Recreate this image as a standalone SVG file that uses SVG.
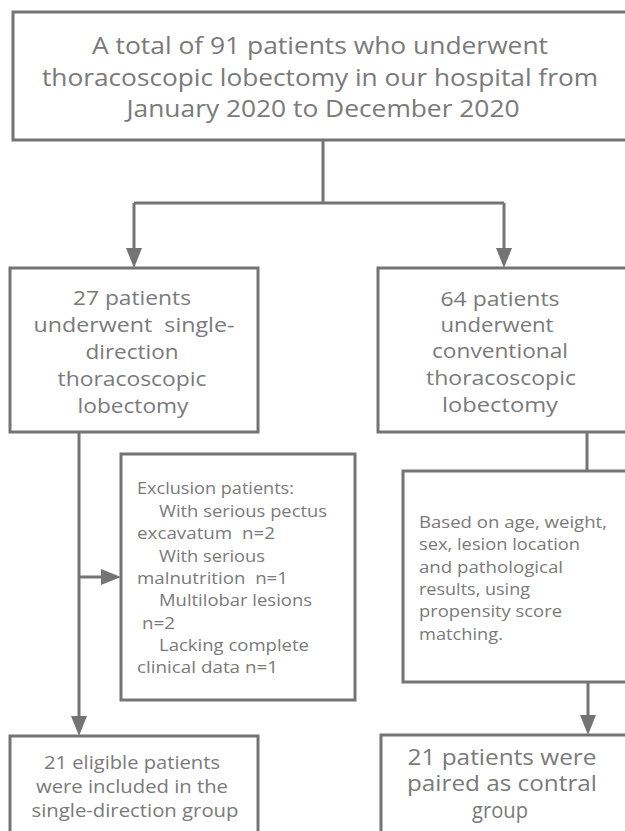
<svg xmlns="http://www.w3.org/2000/svg" width="625" height="831" viewBox="0 0 625 831">
<style>
.box{fill:#ffffff;stroke:#747474;stroke-width:3}
.ln{fill:none;stroke:#747474;stroke-width:3}
text{font-family:"Open Sans","Noto Sans","DejaVu Sans",sans-serif;fill:#7a7a7a;white-space:pre}
.t26{font-size:24px;text-anchor:middle}
.t22{font-size:20.5px;text-anchor:middle}
.t18{font-size:16.8px}
.t20{font-size:18.5px;text-anchor:middle}
.t23{font-size:21px;text-anchor:middle}
</style>
<defs>
<marker id="ah" viewBox="0 0 20 16" refX="10" refY="8" markerWidth="20" markerHeight="16" markerUnits="userSpaceOnUse" orient="auto">
<path d="M0,0 L20,8 L0,16 Z" fill="#747474"/>
</marker>
</defs>
<rect width="625" height="831" fill="#ffffff"/>
<g id="connectors">
<path class="ln" d="M323,140 V203 M134,203 H504"/>
<path class="ln" d="M134,203 V258" marker-end="url(#ah)"/>
<path class="ln" d="M504,203 V258" marker-end="url(#ah)"/>
<path class="ln" d="M79,432 V726" marker-end="url(#ah)"/>
<path class="ln" d="M79,577 H111" marker-end="url(#ah)"/>
<path class="ln" d="M587,432 V471"/>
<path class="ln" d="M588,682 V725" marker-end="url(#ah)"/>
</g>
<g id="n_total">
<rect class="box" x="13" y="12" width="614" height="128"/>
<text class="t26" x="320" y="54" textLength="456" lengthAdjust="spacingAndGlyphs">A total of 91 patients who underwent</text>
<text class="t26" x="320" y="86" textLength="556" lengthAdjust="spacingAndGlyphs">thoracoscopic lobectomy in our hospital from</text>
<text class="t26" x="323" y="117" textLength="393" lengthAdjust="spacingAndGlyphs">January 2020 to December 2020</text>
</g>
<g id="n_single">
<rect class="box" x="10" y="268" width="248" height="164"/>
<text class="t22" x="132" y="305" textLength="118" lengthAdjust="spacingAndGlyphs">27 patients</text>
<text class="t22" x="134" y="332" textLength="201" lengthAdjust="spacingAndGlyphs">underwent  single-</text>
<text class="t22" x="132" y="359" textLength="93" lengthAdjust="spacingAndGlyphs">direction</text>
<text class="t22" x="132" y="386" textLength="149" lengthAdjust="spacingAndGlyphs">thoracoscopic</text>
<text class="t22" x="133" y="413" textLength="111" lengthAdjust="spacingAndGlyphs">lobectomy</text>
</g>
<g id="n_conv">
<rect class="box" x="378" y="268" width="249" height="164"/>
<text class="t22" x="500" y="306" textLength="119" lengthAdjust="spacingAndGlyphs">64 patients</text>
<text class="t22" x="497" y="332" textLength="113" lengthAdjust="spacingAndGlyphs">underwent</text>
<text class="t22" x="500" y="358" textLength="136" lengthAdjust="spacingAndGlyphs">conventional</text>
<text class="t22" x="501" y="385" textLength="150" lengthAdjust="spacingAndGlyphs">thoracoscopic</text>
<text class="t22" x="500" y="412" textLength="116" lengthAdjust="spacingAndGlyphs">lobectomy</text>
</g>
<g id="n_exclusion">
<rect class="box" x="121" y="454" width="234" height="246"/>
<text class="t18" x="137" y="494" textLength="157" lengthAdjust="spacingAndGlyphs">Exclusion patients:</text>
<text class="t18" x="159" y="517" textLength="168" lengthAdjust="spacingAndGlyphs">With serious pectus</text>
<text class="t18" x="137" y="539" textLength="138" lengthAdjust="spacingAndGlyphs">excavatum  n=2</text>
<text class="t18" x="159" y="562" textLength="106" lengthAdjust="spacingAndGlyphs">With serious</text>
<text class="t18" x="137" y="584" textLength="151" lengthAdjust="spacingAndGlyphs">malnutrition  n=1</text>
<text class="t18" x="159" y="606" textLength="153" lengthAdjust="spacingAndGlyphs">Multilobar lesions</text>
<text class="t18" x="142" y="629" textLength="33" lengthAdjust="spacingAndGlyphs">n=2</text>
<text class="t18" x="159" y="651" textLength="150" lengthAdjust="spacingAndGlyphs">Lacking complete</text>
<text class="t18" x="137" y="673" textLength="141" lengthAdjust="spacingAndGlyphs">clinical data n=1</text>
</g>
<g id="n_matching">
<rect class="box" x="403" y="471" width="224" height="211"/>
<text class="t18" x="419" y="528" textLength="188" lengthAdjust="spacingAndGlyphs">Based on age, weight,</text>
<text class="t18" x="419" y="550" textLength="161" lengthAdjust="spacingAndGlyphs">sex, lesion location</text>
<text class="t18" x="419" y="573" textLength="144" lengthAdjust="spacingAndGlyphs">and pathological</text>
<text class="t18" x="419" y="595" textLength="111" lengthAdjust="spacingAndGlyphs">results, using</text>
<text class="t18" x="419" y="617" textLength="143" lengthAdjust="spacingAndGlyphs">propensity score</text>
<text class="t18" x="419" y="640" textLength="84" lengthAdjust="spacingAndGlyphs">matching.</text>
</g>
<g id="n_single_group">
<rect class="box" x="10" y="736" width="248" height="110"/>
<text class="t20" x="132" y="769" textLength="176" lengthAdjust="spacingAndGlyphs">21 eligible patients</text>
<text class="t20" x="132" y="793" textLength="192" lengthAdjust="spacingAndGlyphs">were included in the</text>
<text class="t20" x="135" y="817" textLength="207" lengthAdjust="spacingAndGlyphs">single-direction group</text>
</g>
<g id="n_control_group">
<rect class="box" x="381" y="735" width="246" height="110"/>
<text class="t23" x="502" y="765" textLength="189" lengthAdjust="spacingAndGlyphs">21 patients were</text>
<text class="t23" x="502" y="791" textLength="190" lengthAdjust="spacingAndGlyphs">paired as contral</text>
<text class="t23" x="500" y="818" textLength="56" lengthAdjust="spacingAndGlyphs">group</text>
</g>
</svg>
